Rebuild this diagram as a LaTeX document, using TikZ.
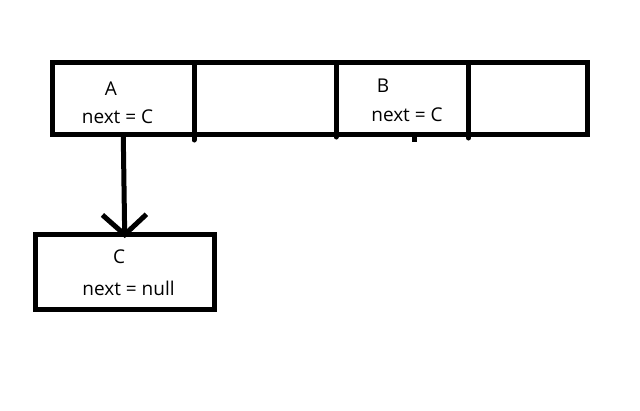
\documentclass[tikz,border=0pt]{standalone}
\usepackage{fontspec}
\setmainfont{Open Sans}
\usetikzlibrary{arrows.meta}
\begin{document}
\begin{tikzpicture}[x=1pt,y=-1pt,
  cell/.style={draw=black,line width=5pt,inner sep=0pt,outer sep=0pt,minimum height=72pt},
  lbl/.style={font=\fontsize{19}{19}\selectfont,text=black,inner sep=0pt,anchor=base},
  tail/.style={line width=5pt,line cap=round},
  link/.style={line width=5pt,-{Straight Barb[length=20pt,width=44pt,line width=5pt]}}]
\useasboundingbox (0,0) rectangle (640,410);
\node[cell,minimum width=141.5pt] (cA) at (123.25,98.5) {};
\node[cell,minimum width=142pt] (c2) at (265,98.5) {};
\node[cell,minimum width=132.5pt] (cB) at (402.25,98.5) {};
\node[cell,minimum width=119pt] (c4) at (528,98.5) {};
\node[cell,minimum width=178.5pt,minimum height=75pt] (C) at (124.75,271.5) {};
% divider tails and tick
\coordinate (t1) at (194,140);
\coordinate (t2) at (336,137);
\coordinate (t3) at (468.5,138);
\coordinate (t4a) at (414.5,134.5);
\coordinate (t4) at (414.5,142);
\draw[tail] (cA.south east) -- (t1);
\draw[tail] (c2.south east) -- (t2);
\draw[tail] (cB.south east) -- (t3);
\draw[line width=5pt] (t4a) -- (t4);
% labels
\node[lbl] (la) at (111,95) {A};
\node[lbl] (na) at (117.5,123) {next = C};
\node[lbl] (lb) at (383,92) {B};
\node[lbl] (nb) at (407,121) {next = C};
\node[lbl] (lc) at (119,263) {C};
\node[lbl] (nc) at (128.5,295) {next = null};
% arrow
\draw[link] (cA.south) -- ([yshift=-4pt]C.north);
\end{tikzpicture}
\end{document}
